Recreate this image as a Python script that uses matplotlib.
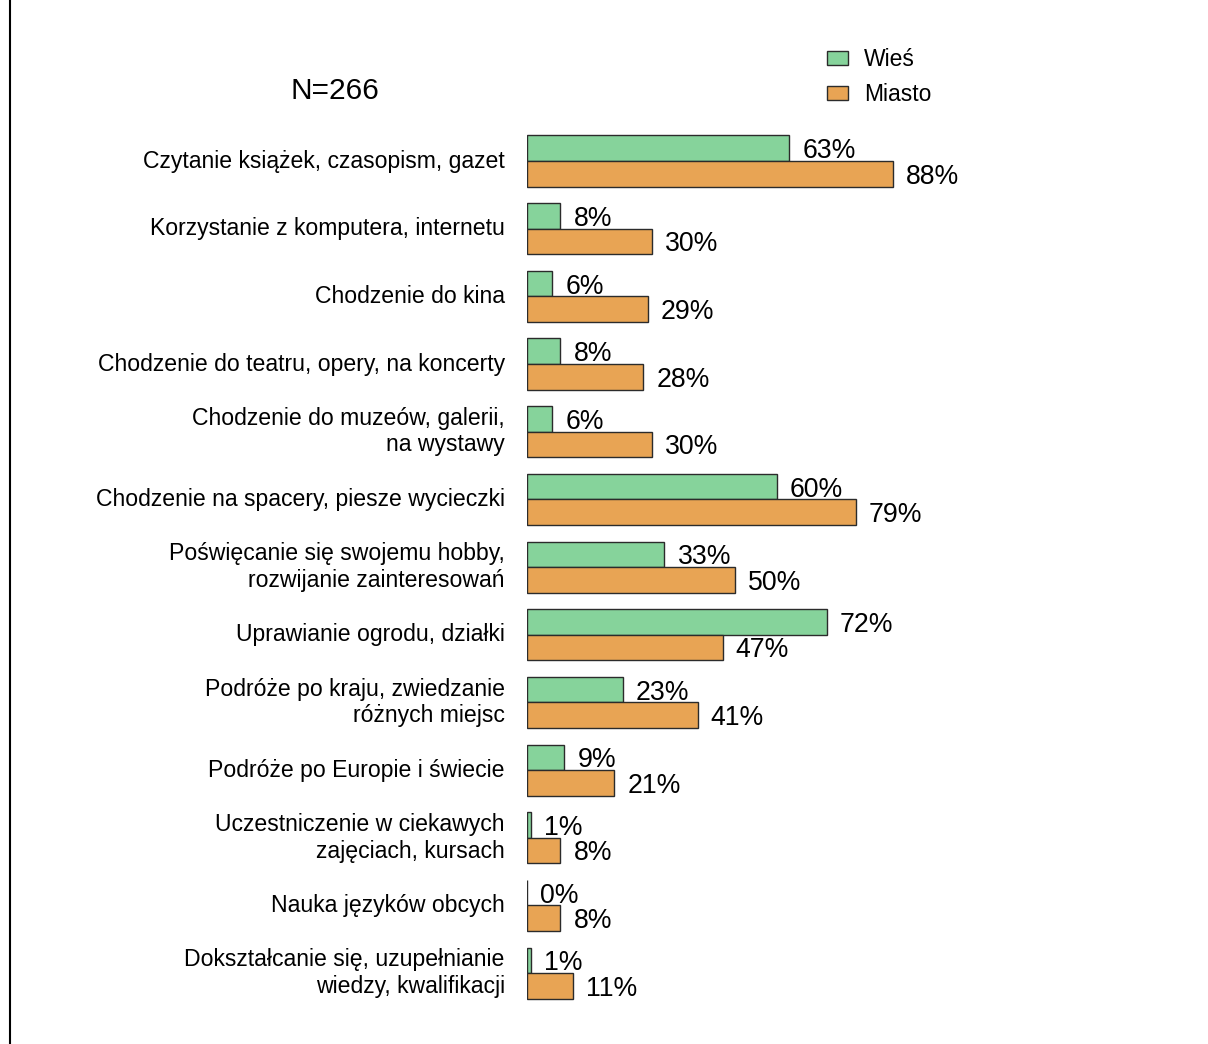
import matplotlib
matplotlib.use("Agg")
import matplotlib.pyplot as plt
from matplotlib.lines import Line2D
import numpy as np

plt.rcParams['font.family'] = ['Liberation Sans', 'DejaVu Sans']

categories = [
    "Czytanie książek, czasopism, gazet",
    "Korzystanie z komputera, internetu",
    "Chodzenie do kina",
    "Chodzenie do teatru, opery, na koncerty",
    "Chodzenie do muzeów, galerii,\nna wystawy",
    "Chodzenie na spacery, piesze wycieczki",
    "Poświęcanie się swojemu hobby,\nrozwijanie zainteresowań",
    "Uprawianie ogrodu, działki",
    "Podróże po kraju, zwiedzanie\nróżnych miejsc",
    "Podróże po Europie i świecie",
    "Uczestniczenie w ciekawych\nzajęciach, kursach",
    "Nauka języków obcych",
    "Dokształcanie się, uzupełnianie\nwiedzy, kwalifikacji",
]
wies = [63, 8, 6, 8, 6, 60, 33, 72, 23, 9, 1, 0, 1]
miasto = [88, 30, 29, 28, 30, 79, 50, 47, 41, 21, 8, 8, 11]
series_names = ["Wieś", "Miasto"]
note = "N=266"

W, H = 1208, 1044
fig = plt.figure(figsize=(W / 100, H / 100), dpi=100)

ax_left, ax_right = 527, 943
ax_top, ax_bot = 100, 1030
ax = fig.add_axes([ax_left / W, 1 - ax_bot / H, (ax_right - ax_left) / W, (ax_bot - ax_top) / H])

spacing = 67.67
y_top = (ax_top - 161) / spacing
y_bot = (ax_bot - 161) / spacing
ax.set_xlim(0, 100)
ax.set_ylim(y_bot, y_top)

y = np.arange(len(categories))
h = 0.377
green = "#86D39B"
orange = "#E8A454"
edge = "#2b2b2b"

b1 = ax.barh(y - h / 2, wies, height=h, color=green, edgecolor=edge, linewidth=1.0, label=series_names[0])
b2 = ax.barh(y + h / 2, miasto, height=h, color=orange, edgecolor=edge, linewidth=1.0, label=series_names[1])

for yi, v in zip(y, wies):
    ax.annotate(f"{v}%", xy=(v, yi - h / 2), xytext=(9.5, 0), textcoords="offset points",
                ha="left", va="center_baseline", fontsize=19.2)
for yi, v in zip(y, miasto):
    ax.annotate(f"{v}%", xy=(v, yi + h / 2), xytext=(9.5, 0), textcoords="offset points",
                ha="left", va="center_baseline", fontsize=19.2)

for yi, c in zip(y, categories):
    ax.annotate(c, xy=(0, yi), xytext=(-16, 0), textcoords="offset points",
                ha="right", va="center", multialignment="right", fontsize=16.6,
                linespacing=1.2)

for s in ax.spines.values():
    s.set_visible(False)
ax.set_xticks([])
ax.set_yticks([])

fig.text(335 / W, 1 - 91 / H, note, ha="center", va="center", fontsize=21.5)

fig.legend(handles=[b1, b2], labels=series_names, loc="upper left",
           bbox_to_anchor=(827 / W, 1 - 48 / H), frameon=False, fontsize=16.5,
           handlelength=0.92, handleheight=0.6, handletextpad=0.68,
           labelspacing=0.53, borderpad=0, borderaxespad=0)

fig.add_artist(Line2D([9.5 / W, 9.5 / W], [0, 1], transform=fig.transFigure, color="black", linewidth=1.5))

fig.savefig("out.png", dpi=100)
